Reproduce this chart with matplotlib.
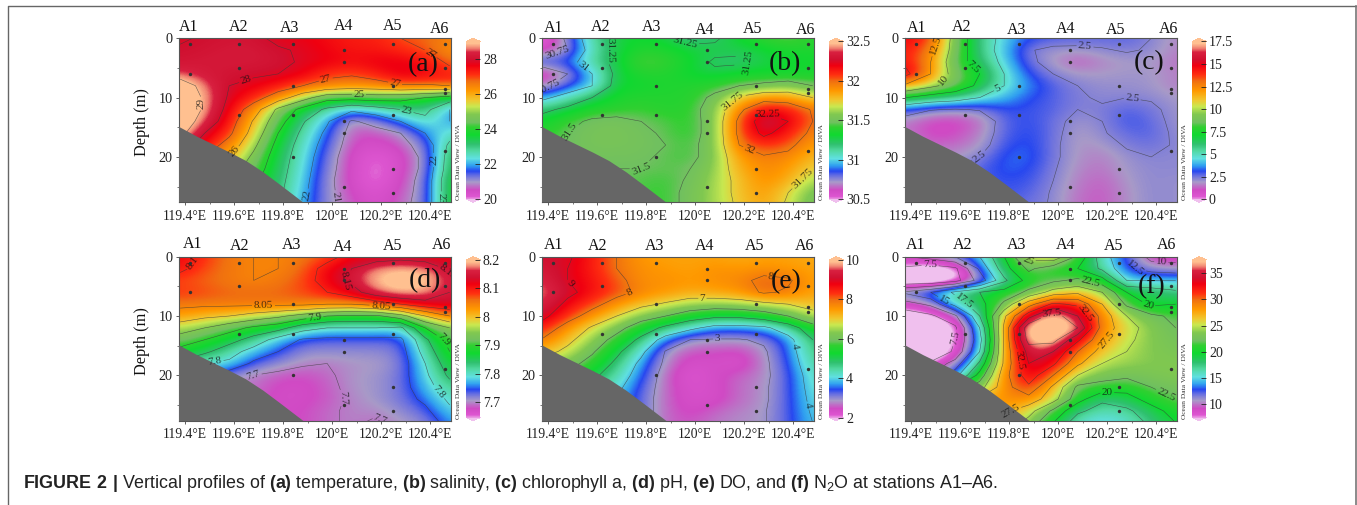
import numpy as np
import matplotlib
matplotlib.use("Agg")
import matplotlib.pyplot as plt
from matplotlib.colors import LinearSegmentedColormap
from matplotlib.ticker import MultipleLocator, FixedLocator, FixedFormatter

plt.rcParams['font.family'] = ['Liberation Serif', 'DejaVu Serif']
plt.rcParams['mathtext.fontset'] = 'custom'
plt.rcParams['mathtext.rm'] = 'Liberation Sans'
plt.rcParams['mathtext.bf'] = 'Liberation Sans:bold'
plt.rcParams['mathtext.default'] = 'rm'

W, H = 1357, 505

# grid of the sections
lons = [119.38, 119.48, 119.58, 119.68, 119.78, 119.88, 119.98, 120.08, 120.18, 120.28, 120.38, 120.48]
depths = [0, 2, 4, 6, 8, 10, 12, 14, 16, 18, 20, 22, 24, 26, 28]

temperature = [
 [27.9, 28.1, 28.2, 28.2, 27.8, 27.8, 27.6, 27.4, 27.4, 27.0, 26.9, 26.6],
 [28.1, 28.2, 28.3, 28.3, 28.1, 27.9, 27.7, 27.5, 27.5, 27.3, 27.0, 26.4],
 [28.2, 28.3, 28.3, 28.3, 28.2, 27.9, 27.8, 27.6, 27.8, 27.8, 27.6, 26.8],
 [28.6, 28.3, 28.2, 28.1, 28.0, 27.8, 27.2, 27.1, 27.4, 27.9, 27.7, 27.4],
 [29.5, 28.7, 28.0, 27.8, 27.5, 27.0, 26.7, 26.5, 26.6, 26.9, 26.9, 27.0],
 [29.6, 28.9, 27.9, 27.4, 26.5, 25.4, 24.4, 24.4, 24.5, 24.4, 24.0, 23.6],
 [29.6, 28.9, 27.7, 26.5, 24.8, 23.7, 22.8, 22.2, 22.6, 23.0, 23.3, 22.0],
 [29.6, 28.6, 27.5, 25.9, 24.4, 23.1, 22.1, 20.9, 21.3, 22.0, 22.7, 22.0],
 [29.3, 28.0, 27.2, 25.6, 24.0, 22.8, 21.8, 20.7, 20.7, 21.0, 22.0, 22.6],
 [28.5, 27.6, 26.6, 25.2, 23.7, 22.6, 21.6, 20.6, 20.5, 20.7, 21.4, 23.2],
 [28.0, 27.0, 26.0, 24.8, 23.5, 22.5, 21.4, 20.5, 20.2, 20.5, 21.2, 23.5],
 [27.5, 26.5, 25.5, 24.5, 23.4, 22.4, 21.3, 20.5, 20.1, 20.5, 21.2, 23.6],
 [27.0, 26.0, 25.0, 24.2, 23.3, 22.3, 21.2, 20.5, 20.1, 20.6, 21.3, 23.9],
 [26.6, 25.6, 24.8, 24.0, 23.2, 22.2, 21.2, 20.6, 20.3, 20.7, 21.3, 23.9],
 [26.5, 25.5, 24.7, 24.0, 23.1, 22.1, 21.2, 20.7, 20.4, 20.8, 21.3, 23.9],
]
salinity = [
 [30.5, 30.8, 31.15, 31.3, 31.35, 31.3, 31.18, 31.22, 31.35, 31.45, 31.5, 31.42],
 [30.6, 30.75, 31.1, 31.3, 31.4, 31.38, 31.32, 31.3, 31.28, 31.32, 31.38, 31.38],
 [30.9, 30.9, 31.15, 31.3, 31.5, 31.45, 31.35, 31.22, 31.22, 31.3, 31.33, 31.35],
 [30.55, 30.75, 31.0, 31.3, 31.4, 31.4, 31.33, 31.3, 31.35, 31.35, 31.35, 31.37],
 [30.7, 30.85, 31.0, 31.33, 31.35, 31.38, 31.4, 31.42, 31.5, 31.55, 31.6, 31.5],
 [30.95, 31.1, 31.25, 31.38, 31.4, 31.4, 31.4, 31.55, 31.78, 31.9, 31.88, 31.75],
 [31.2, 31.3, 31.4, 31.42, 31.45, 31.4, 31.43, 31.6, 31.95, 32.2, 32.15, 31.98],
 [31.35, 31.45, 31.53, 31.55, 31.5, 31.47, 31.42, 31.6, 32.05, 32.38, 32.25, 32.0],
 [31.4, 31.5, 31.55, 31.55, 31.53, 31.48, 31.42, 31.6, 32.05, 32.3, 32.15, 31.95],
 [31.45, 31.5, 31.55, 31.55, 31.53, 31.5, 31.45, 31.6, 32.0, 32.12, 32.05, 31.88],
 [31.48, 31.5, 31.52, 31.52, 31.52, 31.48, 31.45, 31.6, 31.9, 31.98, 31.95, 31.82],
 [31.5, 31.5, 31.5, 31.5, 31.5, 31.48, 31.5, 31.62, 31.85, 31.95, 31.9, 31.75],
 [31.5, 31.5, 31.5, 31.5, 31.47, 31.45, 31.52, 31.65, 31.8, 31.93, 31.85, 31.65],
 [31.5, 31.5, 31.5, 31.5, 31.46, 31.44, 31.55, 31.65, 31.8, 31.9, 31.75, 31.55],
 [31.5, 31.5, 31.5, 31.5, 31.46, 31.44, 31.55, 31.65, 31.78, 31.88, 31.72, 31.52],
]
chlorophyll = [
 [15.0, 14.0, 9.0, 6.0, 4.5, 3.4, 3.1, 3.0, 2.9, 3.0, 2.5, 1.9],
 [14.5, 13.0, 9.0, 6.0, 4.3, 2.6, 2.2, 2.2, 2.4, 2.6, 2.4, 1.8],
 [14.5, 12.5, 8.5, 6.5, 4.5, 2.8, 2.0, 1.4, 1.9, 2.1, 2.1, 1.7],
 [15.5, 12.5, 9.0, 7.5, 5.0, 3.3, 2.5, 2.1, 2.1, 2.2, 2.2, 1.8],
 [12.0, 10.5, 9.0, 7.0, 5.0, 3.8, 3.0, 2.5, 2.3, 2.3, 2.2, 1.8],
 [7.5, 6.5, 6.0, 5.0, 4.2, 3.4, 3.0, 2.6, 2.4, 2.5, 2.4, 2.1],
 [3.3, 2.6, 2.4, 2.6, 3.3, 3.2, 3.0, 2.5, 2.6, 3.0, 2.7, 2.2],
 [1.8, 1.2, 1.1, 1.6, 3.0, 3.3, 2.8, 2.2, 2.5, 3.2, 2.9, 2.2],
 [1.8, 1.1, 1.2, 1.8, 3.0, 3.4, 2.8, 2.0, 2.4, 2.9, 3.0, 2.3],
 [2.0, 1.5, 1.6, 2.0, 3.2, 3.5, 2.7, 2.0, 2.1, 2.6, 2.8, 2.4],
 [2.5, 2.0, 2.0, 2.5, 3.5, 3.6, 2.7, 2.0, 1.8, 2.3, 2.5, 2.4],
 [2.5, 2.5, 2.5, 3.0, 3.5, 3.4, 2.6, 1.9, 1.7, 2.2, 2.4, 2.4],
 [2.5, 2.5, 2.5, 3.0, 3.3, 3.2, 2.5, 1.8, 1.5, 2.1, 2.4, 2.3],
 [2.5, 2.5, 2.5, 3.0, 3.2, 3.0, 2.4, 1.7, 1.4, 2.0, 2.4, 2.3],
 [2.5, 2.5, 2.5, 3.0, 3.0, 2.8, 2.4, 1.6, 1.4, 2.0, 2.4, 2.3],
]
ph = [
 [8.12, 8.09, 8.06, 8.05, 8.05, 8.06, 8.08, 8.12, 8.12, 8.13, 8.12, 8.12],
 [8.11, 8.08, 8.06, 8.05, 8.05, 8.07, 8.12, 8.15, 8.19, 8.20, 8.19, 8.14],
 [8.08, 8.07, 8.06, 8.05, 8.06, 8.08, 8.12, 8.16, 8.20, 8.22, 8.21, 8.16],
 [8.09, 8.08, 8.07, 8.07, 8.07, 8.08, 8.10, 8.13, 8.18, 8.20, 8.19, 8.15],
 [8.06, 8.06, 8.06, 8.06, 8.06, 8.06, 8.05, 8.05, 8.07, 8.10, 8.13, 8.14],
 [8.03, 8.01, 8.00, 7.98, 7.96, 7.93, 7.90, 7.89, 7.89, 7.93, 8.00, 8.05],
 [7.97, 7.95, 7.92, 7.89, 7.87, 7.82, 7.80, 7.80, 7.80, 7.79, 7.90, 7.95],
 [7.93, 7.90, 7.87, 7.83, 7.78, 7.745, 7.74, 7.74, 7.74, 7.74, 7.84, 7.92],
 [7.88, 7.86, 7.82, 7.78, 7.75, 7.72, 7.72, 7.72, 7.72, 7.73, 7.82, 7.90],
 [7.84, 7.80, 7.79, 7.74, 7.72, 7.705, 7.70, 7.71, 7.71, 7.725, 7.80, 7.88],
 [7.80, 7.76, 7.72, 7.70, 7.69, 7.685, 7.695, 7.71, 7.715, 7.73, 7.79, 7.86],
 [7.76, 7.72, 7.70, 7.70, 7.68, 7.68, 7.69, 7.71, 7.715, 7.73, 7.78, 7.83],
 [7.74, 7.70, 7.70, 7.69, 7.68, 7.68, 7.69, 7.705, 7.715, 7.73, 7.76, 7.81],
 [7.72, 7.70, 7.69, 7.68, 7.68, 7.685, 7.695, 7.705, 7.705, 7.72, 7.74, 7.79],
 [7.72, 7.70, 7.69, 7.68, 7.68, 7.685, 7.695, 7.705, 7.695, 7.71, 7.72, 7.77],
]
oxygen = [
 [9.2, 9.1, 8.6, 8.0, 7.6, 7.5, 7.5, 7.5, 7.4, 7.5, 7.5, 7.4],
 [9.4, 9.0, 8.6, 8.0, 7.7, 7.6, 7.5, 7.7, 7.6, 7.7, 7.6, 7.5],
 [9.6, 9.0, 8.7, 8.2, 7.7, 7.7, 7.6, 7.7, 7.8, 8.2, 8.1, 7.5],
 [9.8, 9.2, 8.7, 8.3, 7.8, 7.6, 7.4, 7.5, 7.6, 8.1, 7.9, 7.5],
 [9.6, 8.8, 8.3, 7.6, 7.2, 6.9, 6.6, 6.5, 6.6, 6.8, 7.0, 7.2],
 [9.2, 8.4, 7.6, 7.0, 6.4, 6.0, 5.5, 5.2, 5.2, 5.5, 6.0, 6.8],
 [8.6, 7.6, 6.9, 6.3, 5.5, 4.8, 4.2, 3.7, 3.7, 3.8, 4.5, 5.6],
 [7.9, 7.2, 6.5, 5.7, 4.8, 3.6, 3.0, 2.95, 2.95, 3.1, 3.7, 5.0],
 [7.3, 6.8, 6.1, 5.2, 4.2, 2.95, 2.6, 2.6, 2.5, 2.9, 3.6, 4.8],
 [6.5, 6.3, 5.7, 4.8, 3.8, 2.85, 2.4, 2.5, 2.35, 2.85, 3.5, 4.6],
 [6.0, 5.8, 5.2, 4.5, 3.6, 2.7, 2.25, 2.5, 2.7, 2.85, 3.4, 4.4],
 [5.5, 5.0, 4.6, 4.2, 3.4, 2.7, 2.35, 2.45, 2.75, 2.9, 3.4, 4.3],
 [5.5, 5.0, 4.4, 4.0, 3.3, 2.7, 2.4, 2.45, 2.75, 2.9, 3.4, 4.2],
 [5.5, 5.0, 4.4, 4.0, 3.3, 2.7, 2.5, 2.7, 2.85, 2.95, 3.4, 4.1],
 [5.5, 5.0, 4.4, 4.0, 3.3, 2.7, 2.6, 2.8, 2.9, 2.95, 3.4, 4.0],
]
n2o = [
 [10.0, 11.0, 12.5, 15.0, 20.0, 26.0, 27.0, 22.0, 16.0, 13.0, 9.0, 9.0],
 [7.0, 6.0, 7.0, 13.0, 19.0, 23.0, 21.0, 20.0, 17.0, 13.0, 11.5, 11.0],
 [5.0, 5.0, 6.5, 11.0, 17.0, 21.0, 22.0, 23.0, 21.0, 15.0, 15.0, 15.0],
 [13.0, 15.0, 18.0, 20.0, 21.0, 23.0, 26.0, 27.0, 25.0, 20.0, 19.0, 18.0],
 [9.0, 10.5, 16.0, 19.0, 23.0, 29.0, 33.0, 32.0, 27.5, 22.0, 19.5, 20.0],
 [6.0, 7.0, 9.5, 17.5, 27.0, 34.0, 39.0, 35.0, 29.0, 25.0, 23.0, 22.0],
 [5.0, 5.0, 7.0, 15.0, 28.0, 39.5, 39.5, 37.5, 29.0, 26.0, 24.0, 22.5],
 [5.0, 5.0, 7.5, 14.0, 28.0, 38.5, 38.5, 33.0, 28.0, 25.5, 24.0, 23.0],
 [4.0, 5.0, 8.0, 15.0, 28.0, 36.0, 35.0, 30.0, 26.5, 25.0, 24.0, 23.5],
 [6.0, 8.0, 11.0, 18.0, 28.0, 35.0, 33.0, 28.0, 25.0, 24.5, 24.0, 24.0],
 [8.0, 10.0, 14.0, 21.0, 29.0, 34.0, 30.0, 25.0, 23.5, 23.0, 23.5, 24.0],
 [12.0, 15.0, 20.0, 24.0, 29.0, 32.0, 27.0, 22.0, 21.5, 21.0, 22.5, 23.0],
 [15.0, 20.0, 25.0, 28.0, 29.0, 29.0, 26.0, 21.0, 18.0, 19.0, 21.0, 22.5],
 [18.0, 22.0, 25.0, 28.0, 28.0, 26.0, 22.0, 18.0, 16.5, 17.0, 19.0, 21.0],
 [18.0, 22.0, 25.0, 28.0, 27.0, 24.0, 20.0, 16.0, 15.0, 16.0, 18.0, 20.0],
]

stations_lon = [119.42, 119.42, 119.62, 119.62, 119.62, 119.84, 119.84, 119.84, 119.84,
                120.05, 120.05, 120.05, 120.05, 120.05, 120.25, 120.25, 120.25, 120.25, 120.25,
                120.46, 120.46, 120.46, 120.46, 120.46]
stations_depth = [1, 6, 1, 5, 13, 1, 8, 13, 20, 2, 4, 14, 16, 25, 1, 8, 13, 22, 26, 1, 5, 8.5, 9.3, 19]
bottom_lon = [119.3, 119.374, 119.45, 119.52, 119.585, 119.65, 119.72, 119.788, 119.883, 119.883]
bottom_depth = [14.9, 14.9, 16.6, 18.0, 19.3, 20.7, 22.6, 24.7, 27.7, 27.7]
station_names = ["A1", "A2", "A3", "A4", "A5", "A6"]

cmap = LinearSegmentedColormap.from_list("odv", [
    (0.00, "#f0c0ee"), (0.03, "#dd55d0"), (0.07, "#d04ac4"), (0.12, "#a89ac8"), (0.16, "#6a70e0"),
    (0.19, "#2848f0"), (0.225, "#30a0f0"), (0.27, "#60e0e0"), (0.32, "#50d8a0"), (0.36, "#30c070"),
    (0.42, "#10d830"), (0.47, "#30d030"), (0.50, "#70c060"), (0.55, "#80c850"), (0.60, "#c8e850"),
    (0.64, "#f0c830"), (0.70, "#ff9900"), (0.76, "#f07010"), (0.80, "#ff3010"), (0.86, "#f00010"),
    (0.90, "#d01030"), (0.945, "#d82040"), (0.97, "#f08070"), (1.00, "#ffc090")], N=512)

panels = [
 dict(tag="(a)", data=temperature, vmin=20, vmax=29, ticks=[20, 22, 24, 26, 28],
      ticklabels=["20", "22", "24", "26", "28"], levels=[21, 22, 23, 24, 25, 26, 27, 28, 29],
      box=(178.7, 38.3), tagxy=(423, 65), ylab=True,
      names=[(189, 27), (238.7, 27), (289.7, 28), (343.7, 25.7), (393, 25.7), (439.7, 29)],
      clab=[(120.27, 4.8), (119.97, 6.3), (120.11, 9), (120.30, 13), (119.46, 11), (119.64, 6.1),
            (119.59, 18.7), (119.87, 26.3), (119.98, 27), (120.41, 20.5), (120.43, 0.8), (120.46, 27)]),
 dict(tag="(b)", data=salinity, vmin=30.5, vmax=32.5, ticks=[30.5, 31, 31.5, 32, 32.5],
      ticklabels=["30.5", "31", "31.5", "32", "32.5"], levels=[30.75, 31, 31.25, 31.5, 31.75, 32, 32.25],
      box=(541.7, 38.3), tagxy=(785, 64), ylab=False,
      names=[(553.7, 27.7), (601, 27.3), (652, 27.3), (705, 30), (753, 29), (805.3, 30)],
      clab=[(119.956, 1), (119.755, 2.7), (120.31, 1.1), (119.546, 4.7), (120.15, 10.4), (120.30, 12.2),
            (120.22, 19), (120.42, 22.8), (119.48, 15.3), (119.80, 24), (119.44, 3.1), (119.40, 8.1)]),
 dict(tag="(c)", data=chlorophyll, vmin=0, vmax=17.5, ticks=[0, 2.5, 5, 7.5, 10, 12.5, 15, 17.5],
      ticklabels=["0", "2.5", "5", "7.5", "10", "12.5", "15", "17.5"], levels=[2.5, 5, 7.5, 10, 12.5, 15],
      box=(904.7, 38.3), tagxy=(1149, 63), ylab=False,
      names=[(916.7, 28), (961.7, 27), (1017, 30), (1066, 29), (1116, 30), (1168.7, 29)],
      clab=[(120.11, 1.3), (120.30, 10.8), (119.74, 7.4), (119.62, 6.3), (119.53, 6.9), (119.495, 1.1),
            (119.70, 21.2)]),
 dict(tag="(d)", data=ph, vmin=7.645, vmax=8.2, ticks=[7.7, 7.8, 7.9, 8.0, 8.1, 8.2],
      ticklabels=["7.7", "7.8", "7.9", "8", "8.1", "8.2"],
      levels=[7.7, 7.75, 7.8, 7.85, 7.9, 7.95, 8.0, 8.05, 8.1, 8.15],
      box=(178.7, 256.7), tagxy=(425, 281), ylab=True,
      names=[(192.7, 244), (240, 245.7), (292, 245), (343, 246.7), (392.7, 245.7), (442, 245)],
      clab=[(119.44, 1.3), (120.02, 4.5), (120.457, 3.1), (119.72, 8.3), (120.2, 8), (119.93, 10.4),
            (120.457, 14), (119.52, 17.1), (119.68, 20.2), (120.04, 23.9), (120.21, 26.6), (120.42, 23.3)]),
 dict(tag="(e)", data=oxygen, vmin=2, vmax=10, ticks=[2, 4, 6, 8, 10],
      ticklabels=["2", "4", "6", "8", "10"], levels=[3, 4, 5, 6, 7, 8, 9],
      box=(541.7, 256.7), tagxy=(786, 282), ylab=False,
      names=[(553.7, 245), (598, 245.7), (655, 245.7), (705, 245.7), (755, 245.7), (805, 245.7)],
      clab=[(119.467, 5.2), (119.74, 7.1), (120.03, 7), (120.31, 3.1), (120.09, 13.6), (120.43, 14.9),
            (120.43, 25.4)]),
 dict(tag="(f)", data=n2o, vmin=7.5, vmax=37.5, ticks=[10, 15, 20, 25, 30, 35],
      ticklabels=["10", "15", "20", "25", "30", "35"], levels=list(np.arange(7.5, 38, 2.5)),
      box=(904.7, 256.7), tagxy=(1152, 287), ylab=False,
      names=[(916, 245), (963, 245), (1016.7, 244.7), (1066, 244.7), (1114, 246), (1166.7, 245)],
      clab=[(119.478, 1.6), (119.54, 7), (119.62, 7.3), (119.88, 0.8), (120.13, 4.7), (119.97, 9.3),
            (120.11, 9.6), (120.2, 14), (119.84, 17.5), (119.77, 24.3), (120.365, 8.5), (120.31, 2.5),
            (120.42, 1.7), (120.2, 23.4), (120.43, 24.2), (119.56, 13.6)]),
]

fig = plt.figure(figsize=(W / 100, H / 100), dpi=100, facecolor="white")


def axes_px(x0, y0, w, h, **kw):
    return fig.add_axes([x0 / W, 1 - (y0 + h) / H, w / W, h / H], **kw)


def fig_text(x, y, s, **kw):
    fig.text(x / W, 1 - y / H, s, ha=kw.pop("ha", "center"), va=kw.pop("va", "center"), **kw)


# page frame
fig.add_artist(plt.Line2D([7.5 / W, 7.5 / W, 1356 / W], [0, 1 - 6.3 / H, 1 - 6.3 / H], color="#666666", lw=1.0))
fig.add_artist(plt.Line2D([1356 / W, 1356 / W], [0, 1 - 6.3 / H], color="#777777", lw=1.2))

lon_arr = np.array(lons)
dep_arr = np.array(depths, dtype=float)
ext = (lons[0] - 0.05, lons[-1] + 0.05, 29, -1)

for p in panels:
    x0, y0 = p["box"]
    ax = axes_px(x0, y0, 272, 164)
    z = np.array(p["data"], dtype=float)
    im = ax.imshow(z, extent=ext, cmap=cmap, vmin=p["vmin"], vmax=p["vmax"], aspect="auto",
                   interpolation="bicubic", zorder=1)
    cs = ax.contour(lon_arr, dep_arr, z, levels=p["levels"], colors="#3a3a3a", linewidths=0.4,
                    alpha=0.75, zorder=2)
    ax.clabel(cs, fmt=lambda v: f"{v:g}", fontsize=8, inline=True, inline_spacing=1,
              manual=p["clab"], colors="#111111")
    for t in cs.labelTexts:
        t.set_family("Liberation Serif")
    ax.fill(bottom_lon + [119.3], bottom_depth + [27.7], color="#666666", zorder=3, lw=0)
    ax.scatter(stations_lon, stations_depth, s=6, color="#333333", zorder=4, lw=0)
    ax.set_xlim(119.374, 120.484)
    ax.set_ylim(27.65, 0)
    ax.xaxis.set_major_locator(FixedLocator([119.4, 119.6, 119.8, 120.0, 120.2, 120.4]))
    ax.xaxis.set_major_formatter(FixedFormatter(["119.4°E", "119.6°E", "119.8°E", "120°E", "120.2°E", "120.4°E"]))
    ax.xaxis.set_minor_locator(FixedLocator([119.5, 119.7, 119.9, 120.1, 120.3]))
    ax.yaxis.set_major_locator(FixedLocator([0, 10, 20]))
    ax.yaxis.set_minor_locator(MultipleLocator(5))
    ax.tick_params(which="major", length=2.5, width=0.6, color="#444444", labelsize=9.8, pad=3, labelcolor="#222222")
    ax.tick_params(which="minor", length=1.6, width=0.5, color="#444444")
    ax.tick_params(axis="y", labelsize=10.2, pad=2)
    for s in ax.spines.values():
        s.set_linewidth(0.8)
        s.set_color("#555555")
    # colour bar
    cax = axes_px(x0 + 287.5, y0, 14, 164)
    cb = fig.colorbar(im, cax=cax, extend="both", extendfrac=0.02, ticks=p["ticks"])
    cb.ax.set_yticklabels(p["ticklabels"])
    cb.ax.tick_params(length=3.5, width=0.6, direction="in", color="#222222", labelsize=10, pad=2,
                      labelcolor="#222222")
    cb.outline.set_visible(False)
    cb.solids.set_edgecolor("face")
    fig_text(x0 + 279.5, y0 + 124, "Ocean Data View / DIVA", rotation=90, fontsize=5.4, color="#333333")
    for name, (nx, ny) in zip(station_names, p["names"]):
        fig_text(nx, ny, name, fontsize=11.5, color="#111111")
    fig_text(p["tagxy"][0], p["tagxy"][1], p["tag"], fontsize=20, color="#111111")
    if p["ylab"]:
        fig_text(x0 - 36.5, y0 + 84, "Depth (m)", rotation=90, fontsize=11.8, color="#111111")

fig_text(23, 484,
         r"$\mathbf{FIGURE\ 2\ |}$ Vertical profiles of $\mathbf{(a)}$ temperature, $\mathbf{(b)}$ salinity, "
         r"$\mathbf{(c)}$ chlorophyll a, $\mathbf{(d)}$ pH, $\mathbf{(e)}$ DO, and $\mathbf{(f)}$ N$_2$O "
         r"at stations A1–A6.",
         ha="left", fontsize=12.9, color="#222222", family="Liberation Sans")

fig.savefig("out.png", dpi=100)
